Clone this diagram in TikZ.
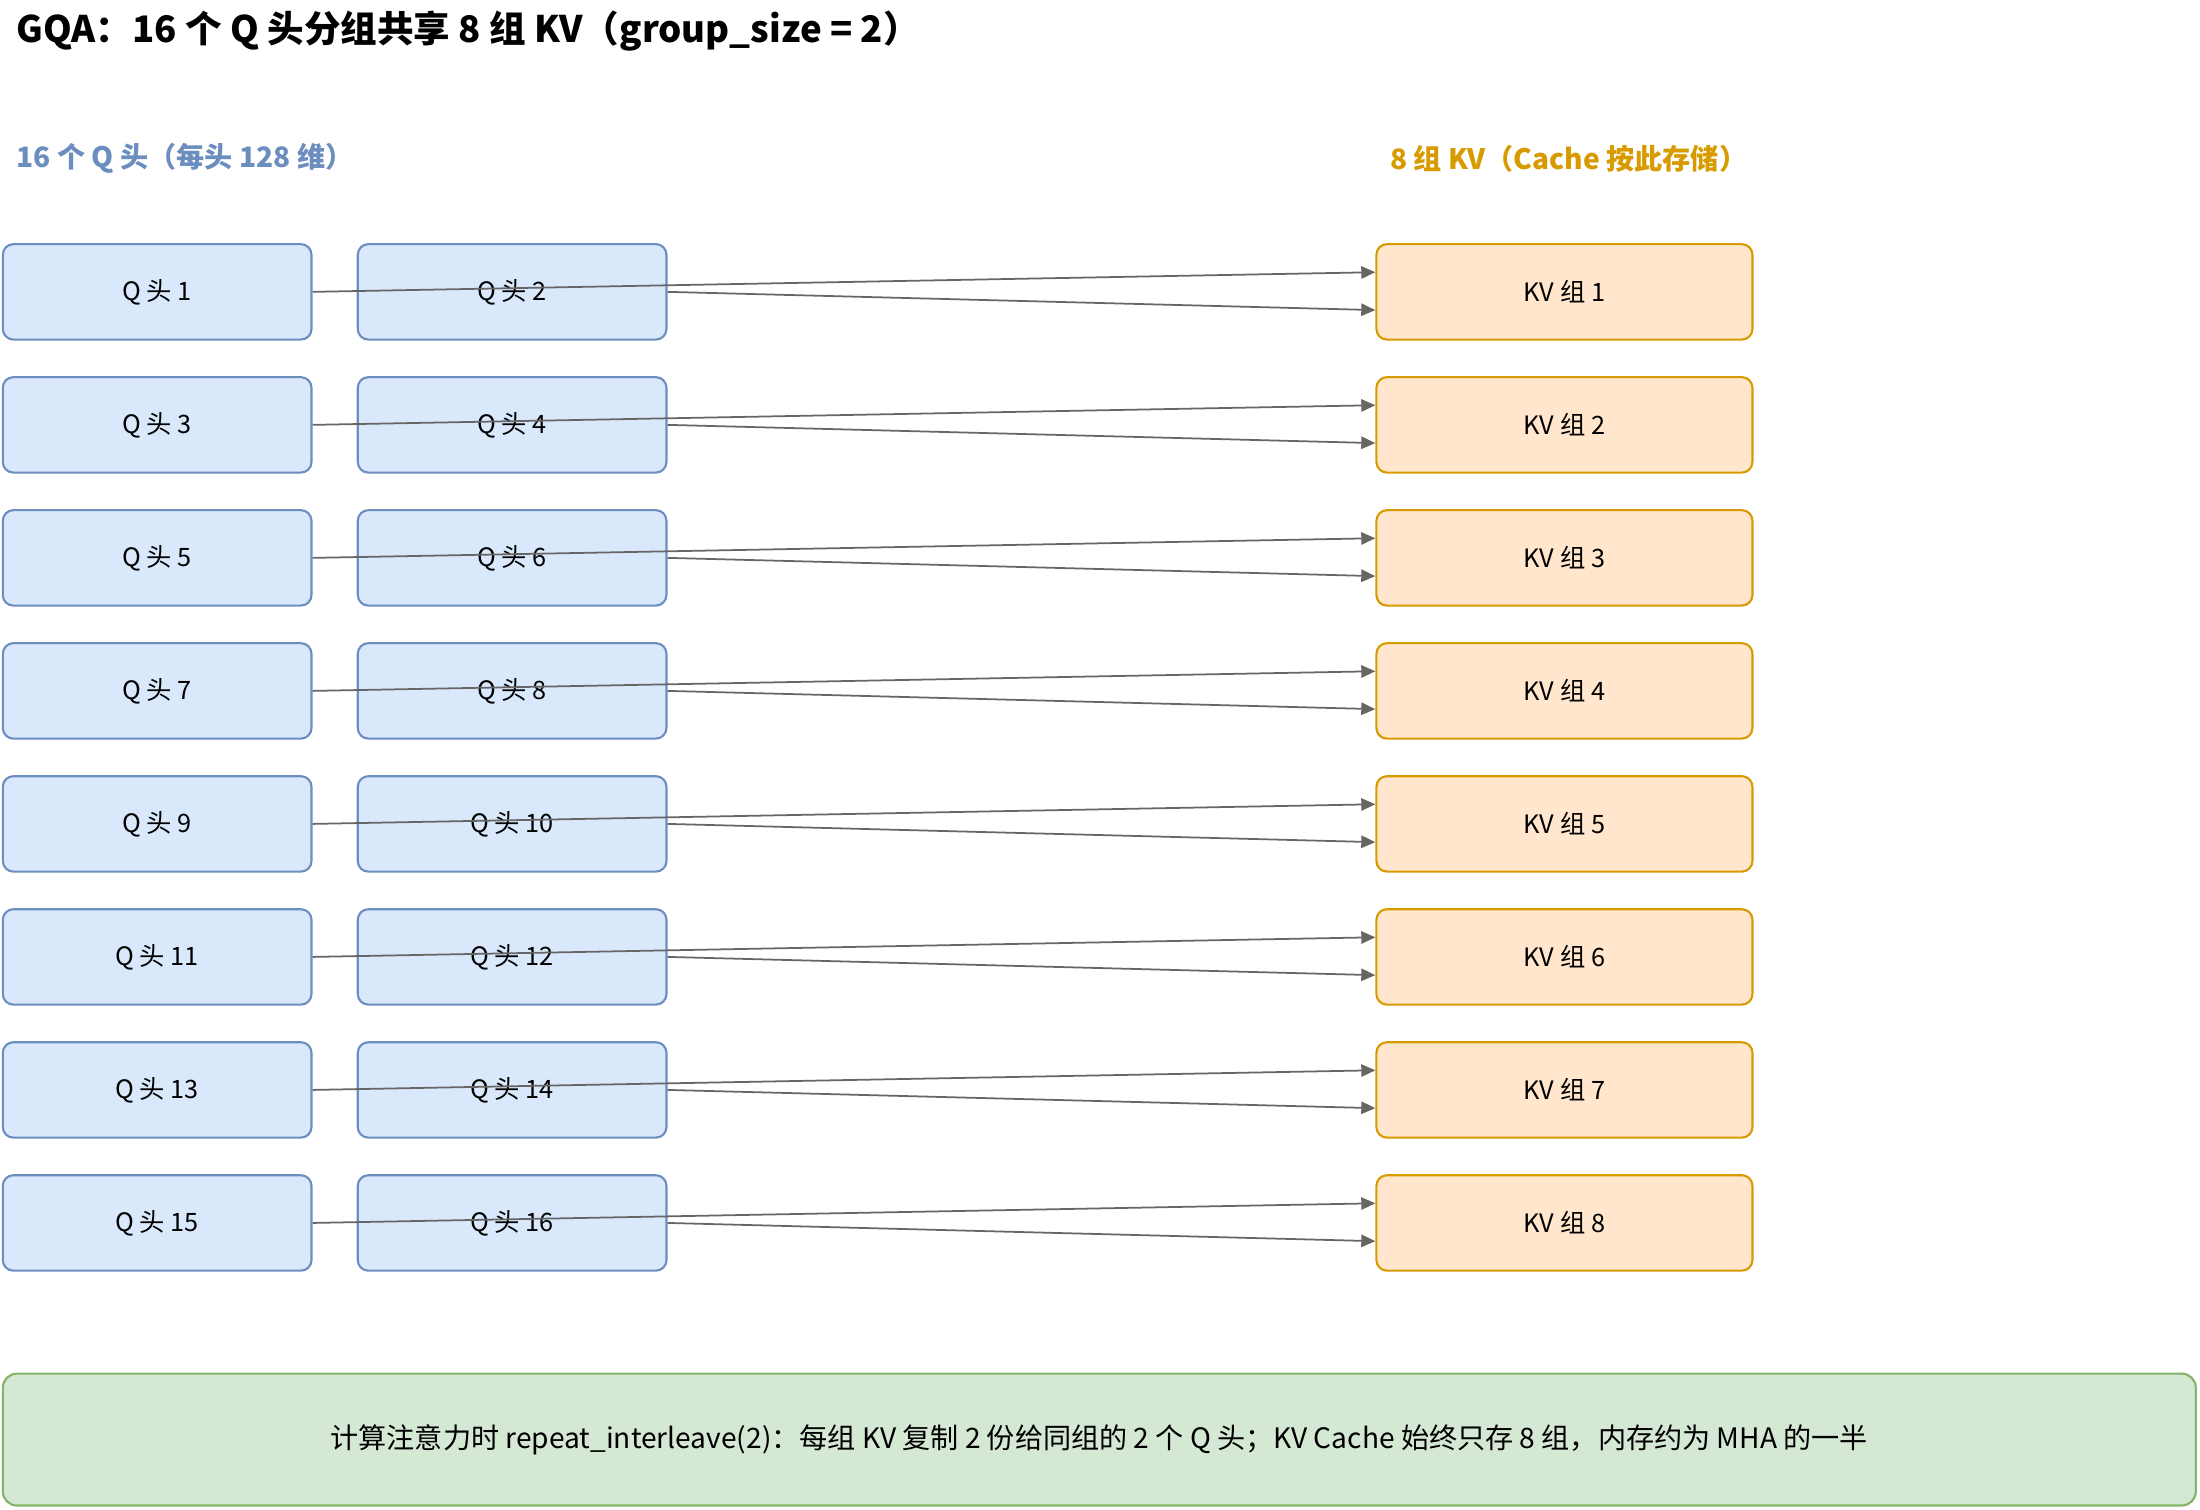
\documentclass[tikz,border=0pt]{standalone}
\usepackage{fontspec}
\setmainfont{Noto Sans CJK SC}
\usetikzlibrary{calc, arrows.meta}
\definecolor{qfill}{HTML}{DAE8FC}
\definecolor{qline}{HTML}{6C8EBF}
\definecolor{kvfill}{HTML}{FFE6CC}
\definecolor{kvline}{HTML}{D79B00}
\definecolor{notefill}{HTML}{D5E8D4}
\definecolor{noteline}{HTML}{82B366}
\definecolor{arrowgray}{HTML}{666666}
\tikzset{
  qhead/.style={draw=qline, fill=qfill, rounded corners=3pt, line width=0.6pt,
    minimum width=220*0.01403cm, minimum height=68*0.01403cm, font=\fontsize{7.2}{8}\selectfont},
  kvgroup/.style={draw=kvline, fill=kvfill, rounded corners=3pt, line width=0.6pt,
    minimum width=268*0.01403cm, minimum height=68*0.01403cm, font=\fontsize{7.2}{8}\selectfont},
  share/.style={draw=arrowgray, line width=0.5pt, -{Triangle[length=4pt,width=3.5pt]}},
}
\begin{document}
\begin{tikzpicture}[x=0.01403cm, y=-0.01403cm]
  \useasboundingbox (0,0) rectangle (1568,1076);
  % titles
  \node[anchor=west, font=\fontsize{10.4}{12}\selectfont\bfseries] (title) at (3,22)
    {GQA：16 个 Q 头分组共享 8 组 KV（group\_size = 2）};
  \node[anchor=west, text=qline, font=\fontsize{8}{10}\selectfont\bfseries] (qtitle) at (3,113)
    {16 个 Q 头（每头 128 维）};
  \node[anchor=west, text=kvline, font=\fontsize{8}{10}\selectfont\bfseries] (kvtitle) at (982,113)
    {8 组 KV（Cache 按此存储）};
  % heads and groups
  \foreach \i in {1,...,8} {
    \pgfmathtruncatemacro{\a}{2*\i-1}
    \pgfmathtruncatemacro{\b}{2*\i}
    \pgfmathsetmacro{\y}{208+94.8*(\i-1)}
    \node[qhead] (q\a) at (112,\y) {Q 头 \a};
    \node[qhead] (q\b) at (365,\y) {Q 头 \b};
    \node[kvgroup] (kv\i) at (1115,\y) {KV 组 \i};
  }
  % connectors
  \foreach \i in {1,...,8} {
    \pgfmathtruncatemacro{\a}{2*\i-1}
    \pgfmathtruncatemacro{\b}{2*\i}
    \draw[share] (q\a.east) -- ($(kv\i.west)+(0,-14)$);
    \draw[share] (q\b.east) -- ($(kv\i.west)+(0,13)$);
  }
  % note
  \node[draw=noteline, fill=notefill, rounded corners=4pt, line width=0.6pt,
    minimum width=1563*0.01403cm, minimum height=94*0.01403cm,
    font=\fontsize{8}{10}\selectfont] (note) at (783.5,1026)
    {计算注意力时 repeat\_interleave(2)：每组 KV 复制 2 份给同组的 2 个 Q 头；KV Cache 始终只存 8 组，内存约为 MHA 的一半};
\end{tikzpicture}
\end{document}
